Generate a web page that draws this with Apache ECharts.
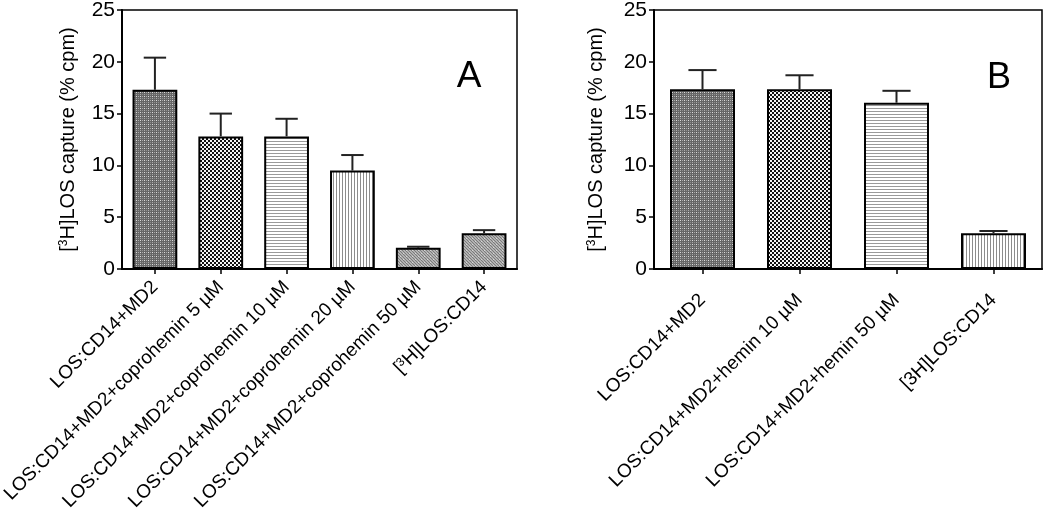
<!DOCTYPE html>
<html>
<head>
<meta charset="utf-8">
<script src="https://cdn.jsdelivr.net/npm/echarts@6/dist/echarts.min.js"></script>
<style>
html,body{margin:0;padding:0;background:#fff;}
#chart{width:1050px;height:509px;}
</style>
</head>
<body>
<div id="chart"></div>
<script>
// ---- Data ----
const categoriesA = [
  'LOS:CD14+MD2',
  'LOS:CD14+MD2+coprohemin 5 µM',
  'LOS:CD14+MD2+coprohemin 10 µM',
  'LOS:CD14+MD2+coprohemin 20 µM',
  'LOS:CD14+MD2+coprohemin 50 µM',
  '[{s|3}H]LOS:CD14'
];
const valuesA = [17.3, 12.8, 12.8, 9.5, 2.05, 3.45];
const errorsA = [3.1, 2.2, 1.7, 1.5, 0.1, 0.3];

const categoriesB = [
  'LOS:CD14+MD2',
  'LOS:CD14+MD2+hemin 10 µM',
  'LOS:CD14+MD2+hemin 50 µM',
  '[3H]LOS:CD14'
];
const valuesB = [17.35, 17.35, 16.05, 3.45];
const errorsB = [1.85, 1.35, 1.15, 0.22];

const yTicks = [0, 5, 10, 15, 20, 25];
const panelLetters = ['A', 'B'];
const yTitle = '[{s|3}H]LOS capture (% cpm)';

// ---- Patterns (style only) ----
function makeTile(w, h, draw) {
  const c = document.createElement('canvas');
  c.width = w; c.height = h;
  const ctx = c.getContext('2d');
  draw(ctx, w, h);
  return { image: c, repeat: 'repeat' };
}
const patDots = makeTile(4, 4, (ctx) => {
  ctx.fillStyle = '#666666'; ctx.fillRect(0, 0, 4, 4);
  ctx.fillStyle = '#dcdcdc'; ctx.fillRect(0, 0, 1, 1);
  ctx.fillStyle = '#aaaaaa'; ctx.fillRect(2, 0, 1, 1); ctx.fillRect(0, 2, 1, 1);
  ctx.fillStyle = '#8e8e8e'; ctx.fillRect(2, 2, 1, 1);
});
const patChecker = makeTile(4, 4, (ctx) => {
  ctx.fillStyle = '#f4f4f4'; ctx.fillRect(0, 0, 4, 4);
  ctx.fillStyle = '#111'; ctx.fillRect(0, 0, 2, 2); ctx.fillRect(2, 2, 2, 2);
});
const patHoriz = makeTile(1, 3, (ctx) => {
  ctx.fillStyle = '#ffffff'; ctx.fillRect(0, 0, 1, 3);
  ctx.fillStyle = '#9a9a9a'; ctx.fillRect(0, 0, 1, 1);
});
const patVert = makeTile(3, 1, (ctx) => {
  ctx.fillStyle = '#ffffff'; ctx.fillRect(0, 0, 3, 1);
  ctx.fillStyle = '#8c8c8c'; ctx.fillRect(0, 0, 1, 1);
});
const patDiag = makeTile(6, 6, (ctx) => {
  ctx.fillStyle = '#b2b2b2'; ctx.fillRect(0, 0, 6, 6);
  ctx.fillStyle = '#7a7a7a';
  for (let i = 0; i < 6; i++) { ctx.fillRect((i + 5) % 6, i, 1, 1); ctx.fillRect((i + 2) % 6, i, 1, 1); }
  ctx.fillStyle = '#d6d6d6'; ctx.fillRect(1, 1, 1, 1); ctx.fillRect(4, 4, 1, 1);
});
const patternsA = [patDots, patChecker, patHoriz, patVert, patDiag, patDiag];
const patternsB = [patDots, patChecker, patHoriz, patVert];

const FONT = '"Liberation Sans", Arial, Helvetica, sans-serif';
const TXT = '#000';

function barData(values, patterns) {
  return values.map((v, i) => ({
    value: v,
    itemStyle: { color: patterns[i], borderColor: '#000', borderWidth: 2 }
  }));
}
function errRender(capFrac) {
  return function (params, api) {
    const i = api.value(0), v = api.value(1), e = api.value(2);
    const p0 = api.coord([i, v]);
    const p1 = api.coord([i, v + e]);
    const w = api.size([1, 0])[0] * capFrac;
    const st = { stroke: '#222', lineWidth: 2 };
    return {
      type: 'group',
      children: [
        { type: 'line', shape: { x1: p0[0], y1: p0[1], x2: p1[0], y2: p1[1] }, style: st },
        { type: 'line', shape: { x1: p1[0] - w / 2, y1: p1[1], x2: p1[0] + w / 2, y2: p1[1] }, style: st }
      ]
    };
  };
}

function xAxisCfg(gridIndex, cats, margin) {
  return {
    type: 'category', gridIndex: gridIndex, data: cats,
    axisLine: { lineStyle: { color: '#000', width: 2 } },
    axisTick: { show: true, alignWithLabel: true, length: 5, lineStyle: { color: '#000', width: 1.5 } },
    axisLabel: {
      interval: 0, rotate: 45, margin: margin, color: TXT, fontSize: 19, fontFamily: FONT,
      rich: { s: { fontSize: 12, verticalAlign: 'top', color: TXT, fontFamily: FONT } }
    },
    splitLine: { show: false }
  };
}
function yAxisCfg(gridIndex, gap) {
  return {
    type: 'value', gridIndex: gridIndex, min: yTicks[0], max: yTicks[yTicks.length - 1], interval: yTicks[1] - yTicks[0],
    name: yTitle, nameLocation: 'middle', nameGap: gap, nameRotate: 90,
    nameTextStyle: {
      color: TXT, fontSize: 20, fontFamily: FONT,
      rich: { s: { fontSize: 12, verticalAlign: 'top', color: TXT, fontFamily: FONT } }
    },
    axisLine: { show: true, lineStyle: { color: '#000', width: 2 } },
    axisTick: { show: true, length: 5, lineStyle: { color: '#000', width: 1.5 } },
    axisLabel: { color: TXT, fontSize: 21, fontFamily: FONT, margin: 7 },
    splitLine: { show: false }
  };
}

const chart = echarts.init(document.getElementById('chart'), null, { renderer: 'canvas' });
chart.setOption({
  animation: false,
  backgroundColor: '#fff',
  grid: [
    { left: 122, top: 10, width: 395, height: 259, containLabel: false, outerBoundsMode: 'none', show: true, borderColor: '#000', borderWidth: 1.5, backgroundColor: 'transparent' },
    { left: 654, top: 10, width: 388, height: 259, containLabel: false, outerBoundsMode: 'none', show: true, borderColor: '#000', borderWidth: 1.5, backgroundColor: 'transparent' }
  ],
  xAxis: [xAxisCfg(0, categoriesA, 15), xAxisCfg(1, categoriesB, 28)],
  yAxis: [yAxisCfg(0, 44), yAxisCfg(1, 48)],
  series: [
    { type: 'bar', xAxisIndex: 0, yAxisIndex: 0, barWidth: '68%', data: barData(valuesA, patternsA), z: 2 },
    { type: 'custom', xAxisIndex: 0, yAxisIndex: 0, renderItem: errRender(0.34),
      data: valuesA.map((v, i) => [i, v, errorsA[i]]), encode: { x: 0, y: 1 }, z: 3 },
    { type: 'bar', xAxisIndex: 1, yAxisIndex: 1, barWidth: '67%', data: barData(valuesB, patternsB), z: 2 },
    { type: 'custom', xAxisIndex: 1, yAxisIndex: 1, renderItem: errRender(0.29),
      data: valuesB.map((v, i) => [i, v, errorsB[i]]), encode: { x: 0, y: 1 }, z: 3 }
  ],
  graphic: [
    { type: 'text', x: 469, y: 77, style: { text: panelLetters[0], font: '37px ' + FONT, fill: '#000', textAlign: 'center', textVerticalAlign: 'middle' } },
    { type: 'text', x: 999, y: 78, style: { text: panelLetters[1], font: '36px ' + FONT, fill: '#000', textAlign: 'center', textVerticalAlign: 'middle' } }
  ]
});
</script>
</body>
</html>
